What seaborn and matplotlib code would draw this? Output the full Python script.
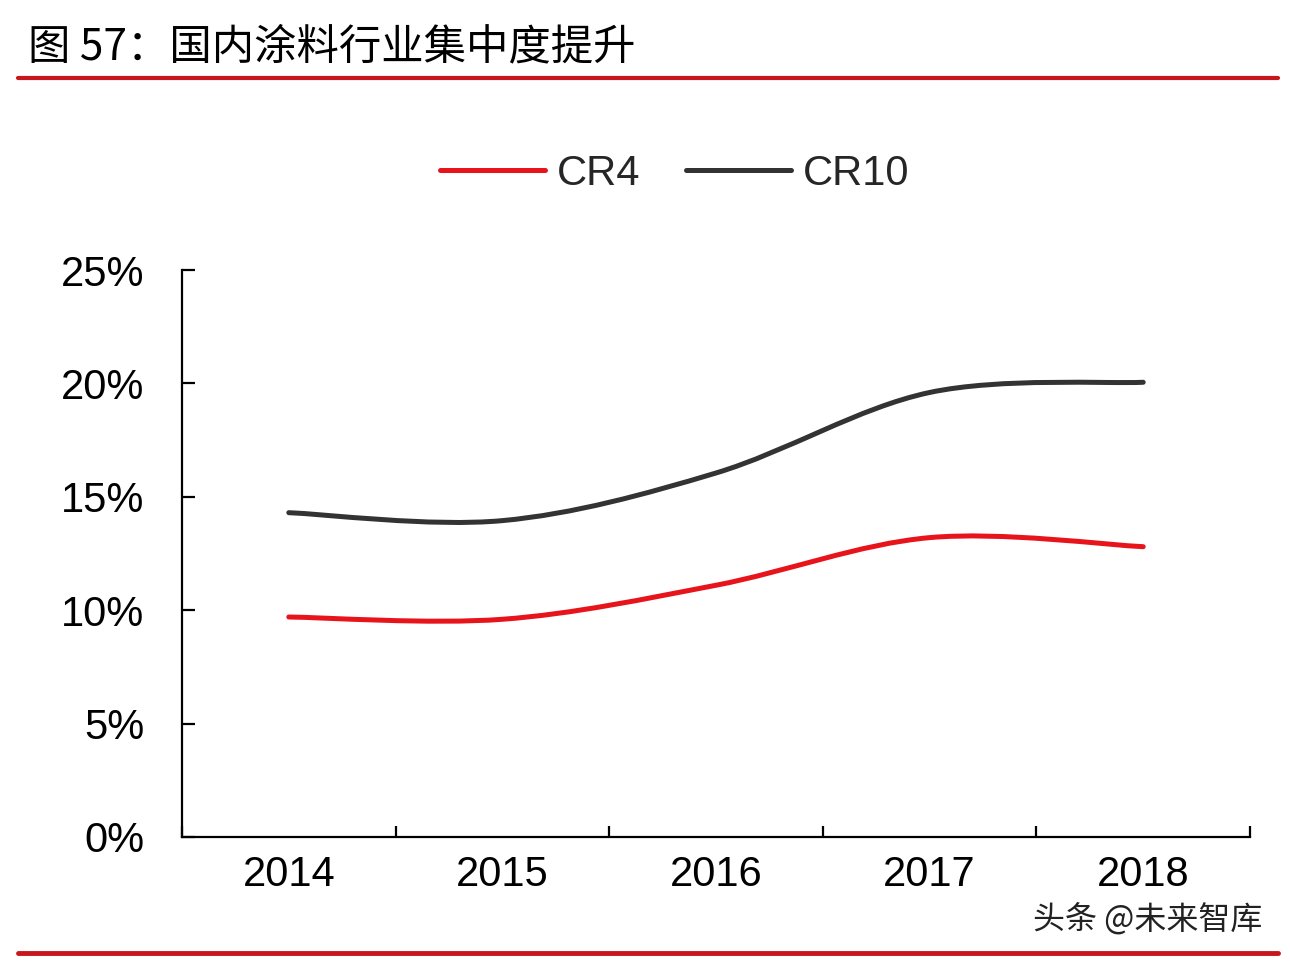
import matplotlib
matplotlib.use('Agg')
from matplotlib import pyplot as plt
from matplotlib.path import Path
from matplotlib.patches import PathPatch
from matplotlib.lines import Line2D
from matplotlib.ticker import FixedLocator, PercentFormatter
import seaborn as sns
import numpy as np

# データ
years = ['2014', '2015', '2016', '2017', '2018']
cr4 = [9.7, 9.6, 11.1, 13.2, 12.8]
cr10 = [14.3, 13.95, 16.05, 19.6, 20.05]
title = '图 57：国内涂料行业集中度提升'

sns.set_theme(style='white')
plt.rcParams['font.family'] = ['Liberation Sans', 'Noto Sans CJK SC', 'DejaVu Sans']

fig = plt.figure(figsize=(12.9, 9.64), dpi=100)
ax = fig.add_axes([182 / 1290, 1 - 837 / 964, (1250 - 182) / 1290, (837 - 270) / 964])


# Excel風の平滑線（ベジェ曲線）
def smooth_path(xs, ys):
    pts = np.column_stack([xs, ys]).astype(float)
    n = len(pts)
    verts = [pts[0]]
    codes = [Path.MOVETO]
    for i in range(n - 1):
        p0 = pts[max(i - 1, 0)]
        p1 = pts[i]
        p2 = pts[i + 1]
        p3 = pts[min(i + 2, n - 1)]
        verts += [p1 + (p2 - p0) / 6, p2 - (p3 - p1) / 6, p2]
        codes += [Path.CURVE4] * 3
    return Path(verts, codes)


x = np.arange(len(years))
red = '#e8141b'
dark = '#333333'
for vals, col in [(cr4, red), (cr10, dark)]:
    ax.add_patch(PathPatch(smooth_path(x, vals), facecolor='none',
                           edgecolor=col, lw=3.6, capstyle='round'))

ax.set_xlim(-0.5, len(years) - 0.5)
ax.set_ylim(0, 25)
sns.despine(ax=ax)
for s in ['left', 'bottom']:
    ax.spines[s].set_linewidth(1.6)
    ax.spines[s].set_color('black')

ax.yaxis.set_major_locator(FixedLocator([0, 5, 10, 15, 20, 25]))
ax.yaxis.set_major_formatter(PercentFormatter(decimals=0))
ax.tick_params(axis='y', direction='in', length=9, width=1.6, colors='black',
               labelsize=30, pad=27, left=True)

ax.xaxis.set_major_locator(FixedLocator(np.arange(-0.5, len(years), 1.0)))
ax.xaxis.set_minor_locator(FixedLocator(x))
ax.set_xticklabels([], minor=False)
ax.set_xticklabels(years, minor=True)
ax.tick_params(axis='x', which='major', direction='in', length=8, width=1.6,
               colors='black', bottom=True)
ax.tick_params(axis='x', which='minor', length=0, labelsize=30, pad=13,
               labelcolor='black')

handles = [Line2D([], [], color=red, lw=3.6, solid_capstyle='round'),
           Line2D([], [], color=dark, lw=3.6, solid_capstyle='round')]
fig.legend(handles, ['CR4', 'CR10'], loc='center', ncol=2, frameon=False,
           bbox_to_anchor=(675 / 1290, 1 - 174 / 964), fontsize=30,
           handlelength=2.5, handletextpad=0.3, columnspacing=1.1)

# タイトルと赤線
fig.text(28 / 1290, 1 - 47 / 964, title, fontsize=30.5, va='center', ha='left',
         family=['Noto Sans CJK SC', 'DejaVu Sans'], color='black')
fig.add_artist(Line2D([18 / 1290, 1278 / 1290], [1 - 78 / 964] * 2,
                      color='#c8161d', lw=3, transform=fig.transFigure))
fig.add_artist(Line2D([18 / 1290, 1278 / 1290], [1 - 953 / 964] * 2,
                      color='#c8161d', lw=3.5, transform=fig.transFigure))
fig.text(1262 / 1290, 1 - 919 / 964, '头条 @未来智库', fontsize=23, ha='right',
         va='center', family=['Noto Sans CJK SC', 'DejaVu Sans'], color='#222222')

fig.savefig('out.png', dpi=100)
